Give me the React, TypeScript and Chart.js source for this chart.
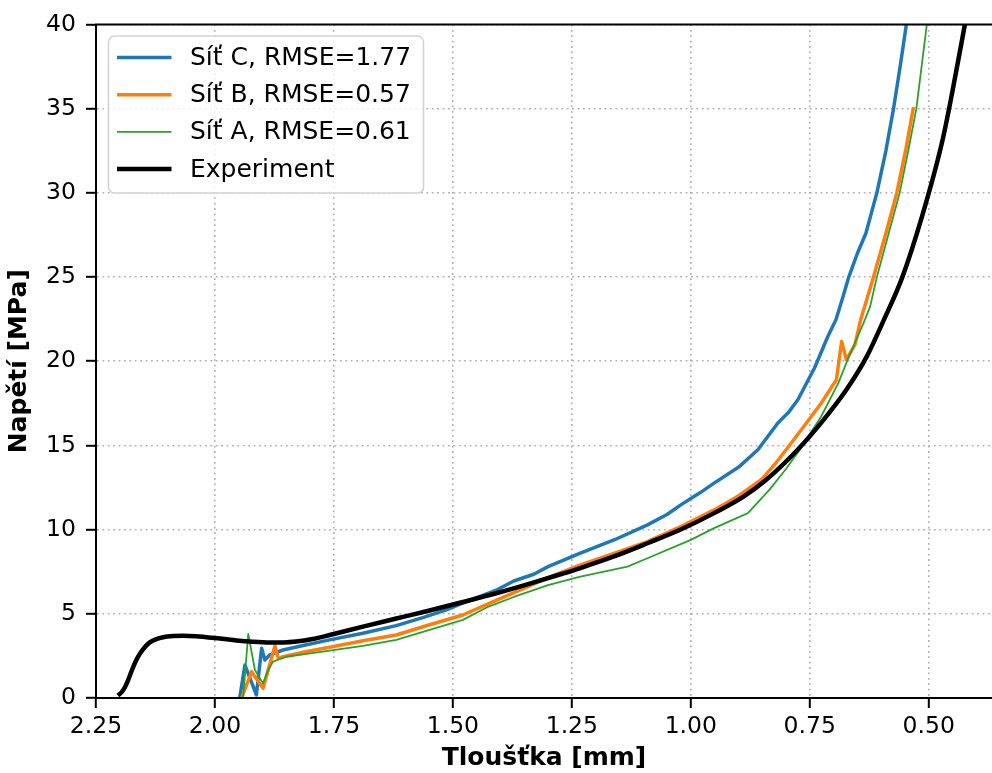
import React, { useEffect, useRef } from 'react';
import { Chart, registerables } from 'chart.js';

Chart.register(...registerables);

// ---- Data (thickness [mm] vs stress [MPa]) ----
const expX = [2.204, 2.196, 2.189, 2.182, 2.175, 2.167, 2.158, 2.148, 2.137, 2.123, 2.109, 2.088, 2.067, 2.040, 2.018, 1.985, 1.955, 1.920, 1.885, 1.855, 1.829, 1.795, 1.759, 1.689, 1.619, 1.549, 1.479, 1.409, 1.340, 1.270, 1.232, 1.160, 1.091, 1.020, 0.951, 0.890, 0.844, 0.777, 0.721, 0.672, 0.630, 0.594, 0.556, 0.514, 0.472, 0.451, 0.424];
const expY = [0.15, 0.35, 0.65, 1.10, 1.62, 2.15, 2.62, 3.00, 3.30, 3.50, 3.61, 3.68, 3.70, 3.67, 3.61, 3.52, 3.42, 3.34, 3.30, 3.30, 3.35, 3.50, 3.74, 4.24, 4.72, 5.20, 5.70, 6.22, 6.78, 7.38, 7.72, 8.42, 9.19, 10.02, 10.98, 11.95, 12.90, 14.70, 16.52, 18.35, 20.29, 22.47, 24.95, 28.60, 33.00, 35.90, 40.00];

const sitCX = [1.948, 1.937, 1.913, 1.902, 1.895, 1.885, 1.857, 1.810, 1.759, 1.689, 1.619, 1.560, 1.514, 1.460, 1.409, 1.372, 1.330, 1.300, 1.232, 1.160, 1.091, 1.050, 1.021, 0.980, 0.951, 0.900, 0.859, 0.817, 0.795, 0.775, 0.740, 0.712, 0.695, 0.680, 0.668, 0.650, 0.632, 0.609, 0.590, 0.574, 0.560, 0.547];
const sitCY = [0.00, 1.96, 0.18, 2.95, 2.26, 2.56, 2.85, 3.15, 3.45, 3.85, 4.30, 4.80, 5.23, 5.85, 6.40, 6.95, 7.35, 7.80, 8.60, 9.40, 10.28, 10.90, 11.47, 12.20, 12.76, 13.70, 14.74, 16.33, 16.95, 17.71, 19.60, 21.47, 22.47, 23.85, 25.00, 26.40, 27.60, 30.00, 32.50, 35.00, 37.50, 40.00];

const sitBX = [1.944, 1.923, 1.899, 1.874, 1.867, 1.857, 1.810, 1.759, 1.689, 1.619, 1.549, 1.479, 1.409, 1.340, 1.300, 1.232, 1.160, 1.091, 1.020, 0.951, 0.900, 0.852, 0.820, 0.789, 0.757, 0.726, 0.694, 0.683, 0.673, 0.655, 0.643, 0.616, 0.590, 0.567, 0.548, 0.532];
const sitBY = [0.00, 1.56, 0.58, 3.09, 2.36, 2.45, 2.75, 3.01, 3.40, 3.74, 4.35, 4.93, 5.80, 6.65, 7.15, 7.90, 8.60, 9.29, 10.20, 11.17, 12.00, 12.96, 14.00, 15.14, 16.33, 17.51, 18.90, 21.18, 20.09, 20.98, 22.47, 25.00, 27.60, 30.00, 32.60, 35.10];

const sitAX = [1.941, 1.930, 1.916, 1.899, 1.888, 1.878, 1.850, 1.800, 1.759, 1.689, 1.619, 1.549, 1.479, 1.425, 1.372, 1.300, 1.232, 1.133, 1.091, 1.000, 0.951, 0.880, 0.835, 0.800, 0.771, 0.726, 0.690, 0.669, 0.643, 0.634, 0.623, 0.609, 0.585, 0.561, 0.543, 0.526, 0.515, 0.504];
const sitAY = [0.00, 3.80, 1.66, 0.87, 1.66, 2.16, 2.45, 2.65, 2.81, 3.10, 3.45, 4.05, 4.64, 5.43, 6.00, 6.70, 7.21, 7.80, 8.30, 9.39, 10.09, 10.98, 12.36, 13.60, 14.74, 16.72, 18.70, 20.19, 21.87, 22.47, 23.26, 25.00, 27.50, 30.00, 32.50, 35.00, 37.50, 40.00];

const seriesLabels = ['Síť C, RMSE=1.77', 'Síť B, RMSE=0.57', 'Síť A, RMSE=0.61', 'Experiment'];
const seriesColors = ['#1f77b4', '#ff7f0e', '#2ca02c', '#000000'];
const seriesWidths = [3.5, 3.5, 1.8, 4.5];
const seriesSmooth = [false, false, false, true];

const xTicks = [2.25, 2.0, 1.75, 1.5, 1.25, 1.0, 0.75, 0.5];
const yTicks = [0, 5, 10, 15, 20, 25, 30, 35, 40];
const X_LEFT = 2.25;
const X_RIGHT = 0.367;
const Y_MIN = 0;
const Y_MAX = 40;
const xTitle = 'Tloušťka [mm]';
const yTitle = 'Napětí [MPa]';

const FONT = 'DejaVu Sans';

function toPoints(xs: number[], ys: number[]) {
  return xs.map((x, i) => ({ x, y: ys[i] }));
}

const framePlugin = {
  id: 'frameTop',
  afterDraw(chart: any) {
    const { ctx, chartArea } = chart;
    ctx.save();
    ctx.strokeStyle = '#000';
    ctx.lineWidth = 2;
    ctx.beginPath();
    ctx.moveTo(chartArea.left - 1, chartArea.top);
    ctx.lineTo(chartArea.right, chartArea.top);
    ctx.stroke();
    ctx.restore();
  },
};

const legendPlugin = {
  id: 'insideLegend',
  afterDraw(chart: any) {
    const { ctx, chartArea } = chart;
    const bx = chartArea.left + 12.5;
    const by = chartArea.top + 11.5;
    const bw = 315;
    const bh = 157;
    const r = 6;
    ctx.save();
    ctx.beginPath();
    ctx.moveTo(bx + r, by);
    ctx.lineTo(bx + bw - r, by);
    ctx.arcTo(bx + bw, by, bx + bw, by + r, r);
    ctx.lineTo(bx + bw, by + bh - r);
    ctx.arcTo(bx + bw, by + bh, bx + bw - r, by + bh, r);
    ctx.lineTo(bx + r, by + bh);
    ctx.arcTo(bx, by + bh, bx, by + bh - r, r);
    ctx.lineTo(bx, by + r);
    ctx.arcTo(bx, by, bx + r, by, r);
    ctx.closePath();
    ctx.fillStyle = 'rgba(255,255,255,0.8)';
    ctx.fill();
    ctx.strokeStyle = '#d3d3d3';
    ctx.lineWidth = 1.6;
    ctx.stroke();

    const datasets = chart.data.datasets;
    ctx.font = `25px "${FONT}"`;
    ctx.textBaseline = 'middle';
    ctx.textAlign = 'left';
    for (let i = 0; i < datasets.length; i++) {
      const ds = datasets[i];
      const cy = by + 21.5 + i * 37.2;
      ctx.strokeStyle = ds.borderColor;
      ctx.lineWidth = ds.borderWidth;
      ctx.beginPath();
      ctx.moveTo(bx + 8.5, cy);
      ctx.lineTo(bx + 63, cy);
      ctx.stroke();
      ctx.fillStyle = '#000';
      ctx.fillText(ds.label, bx + 81.5, cy + 1);
    }
    ctx.restore();
  },
};

export default function App() {
  const ref = useRef<HTMLCanvasElement>(null);

  useEffect(() => {
    const canvas = ref.current;
    if (!canvas) return;
    Chart.defaults.font.family = FONT;
    const seriesData = [
      toPoints(sitCX, sitCY),
      toPoints(sitBX, sitBY),
      toPoints(sitAX, sitAY),
      toPoints(expX, expY),
    ];
    const datasets = seriesData.map((data, i) => ({
      label: seriesLabels[i],
      data,
      borderColor: seriesColors[i],
      backgroundColor: seriesColors[i],
      borderWidth: seriesWidths[i],
      pointRadius: 0,
      tension: 0,
      cubicInterpolationMode: seriesSmooth[i] ? ('monotone' as const) : ('default' as const),
      fill: false,
      borderJoinStyle: 'round' as const,
      order: seriesData.length - 1 - i,
    }));

    const gridCommon = {
      color: '#b0b0b0',
      lineWidth: 1.6,
      drawTicks: true,
      tickLength: 10,
      tickColor: '#000',
      tickWidth: 2,
      tickBorderDash: [],
    };
    const borderCommon = {
      display: true,
      color: '#000',
      width: 2,
      dash: [1.8, 3.6],
      z: 1,
    };

    const chart = new Chart(canvas, {
      type: 'line',
      data: { datasets },
      plugins: [framePlugin, legendPlugin],
      options: {
        animation: false,
        responsive: false,
        maintainAspectRatio: false,
        devicePixelRatio: 1,
        events: [],
        layout: { padding: { top: 24.5, left: 0, right: 0, bottom: 0 } },
        plugins: {
          legend: { display: false },
          tooltip: { enabled: false },
        },
        scales: {
          x: {
            type: 'linear',
            reverse: true,
            min: X_RIGHT,
            max: X_LEFT,
            afterBuildTicks: (s: any) => {
              s.ticks = xTicks.map((v) => ({ value: v }));
            },
            afterFit: (s: any) => {
              s.height = 75;
            },
            ticks: {
              callback: (v: any) => Number(v).toFixed(2),
              font: { size: 23.5, family: FONT },
              color: '#000',
              padding: 4.5,
              maxRotation: 0,
              autoSkip: false,
            },
            grid: gridCommon,
            border: borderCommon,
            title: {
              display: true,
              text: xTitle,
              color: '#000',
              font: { size: 25, weight: 'bold', family: FONT },
              padding: { top: 0, bottom: 0 },
            },
          },
          y: {
            type: 'linear',
            min: Y_MIN,
            max: Y_MAX,
            afterBuildTicks: (s: any) => {
              s.ticks = yTicks.map((v) => ({ value: v }));
            },
            afterFit: (s: any) => {
              s.width = 96;
            },
            ticks: {
              callback: (v: any) => String(v),
              font: { size: 23.5, family: FONT },
              color: '#000',
              padding: 10,
              autoSkip: false,
            },
            grid: gridCommon,
            border: borderCommon,
            title: {
              display: true,
              text: yTitle,
              color: '#000',
              font: { size: 25, weight: 'bold', family: FONT },
              padding: { top: 4, bottom: 0 },
            },
          },
        },
      },
    } as any);

    return () => {
      chart.destroy();
    };
  }, []);

  return (
    <div style={{ position: 'absolute', left: 0, top: 0, width: 992, height: 773, background: '#fff' }}>
      <canvas ref={ref} width={992} height={773} style={{ display: 'block', width: 992, height: 773 }} />
    </div>
  );
}
